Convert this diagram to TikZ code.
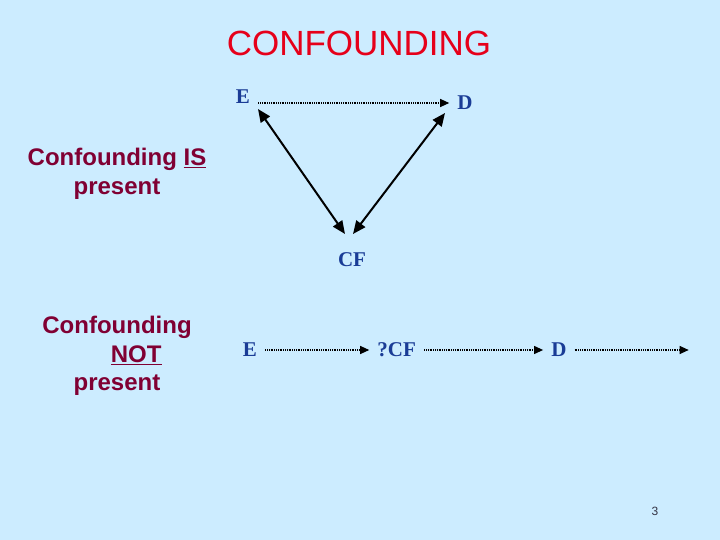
\documentclass[tikz,border=0pt]{standalone}
\usepackage{fontspec}
\setmainfont{Liberation Serif}
\setsansfont{Liberation Sans}
\usepackage{xcolor}
\definecolor{slide-bg}{HTML}{CCECFF}
\definecolor{title-red}{HTML}{E6001A}
\definecolor{label-maroon}{HTML}{800033}
\definecolor{var-blue}{HTML}{1A3C96}
\definecolor{page-grey}{HTML}{333344}
\usetikzlibrary{arrows.meta,positioning}
\tikzset{
  slidetitle/.style={
    font=\sffamily\fontsize{35}{40}\selectfont,
    text=title-red, inner sep=0pt
  },
  sidelabel/.style={
    font=\sffamily\bfseries\fontsize{24}{28.5}\selectfont,
    text=label-maroon, align=center, inner sep=0pt
  },
  varnode/.style={
    font=\bfseries\fontsize{21}{24}\selectfont,
    text=var-blue, inner xsep=8pt, inner ysep=2pt
  },
  dotarrow/.style={
    -{Triangle[length=9pt,width=8pt]},
    line width=1.1pt, dash pattern=on 1pt off 0.8pt
  },
  causal/.style={
    {Triangle[length=13pt,width=11pt]}-{Triangle[length=13pt,width=11pt]},
    line width=2pt
  },
  pagenum/.style={
    font=\sffamily\fontsize{12}{14}\selectfont, text=page-grey
  },
}

\begin{document}
\begin{tikzpicture}[x=1pt, y=-1pt]
  \fill[slide-bg] (0,0) rectangle (720,540);
  \node[slidetitle] (title) at (359,43) {CONFOUNDING};

  % confounding present
  \node[sidelabel] (present) at (117,174) {Confounding \underline{IS}\\present};
  \node[varnode] (E) at (243,97) {E};
  \node[varnode] (D) at (465,103) {D};
  \node[varnode] (CF) at (352,260) {CF};

  \draw[dotarrow] (E.east |- D.west) -- (D.west);
  \draw[causal] ([shift={(15,12)}]E.center) -- ([shift={(-7,-26)}]CF.center);
  \draw[causal] ([shift={(-20,10)}]D.center) -- ([shift={(1,-26)}]CF.center);

  % confounding not present
  \node[sidelabel] (absent) at (117,356) {Confounding\\\hspace*{1.6em}\underline{NOT}\\present};
  \node[varnode] (E2) at (250,350) {E};
  \node[varnode, right=104pt of E2] (CF2) {?CF};
  \node[varnode, right=119pt of CF2] (D2) {D};
  \coordinate[right=114pt of D2] (out);

  \draw[dotarrow] (E2) -- (CF2);
  \draw[dotarrow] (CF2) -- (D2);
  \draw[dotarrow] (D2) -- (out);

  \node[pagenum] (page) at (655,511) {3};
\end{tikzpicture}
\end{document}
